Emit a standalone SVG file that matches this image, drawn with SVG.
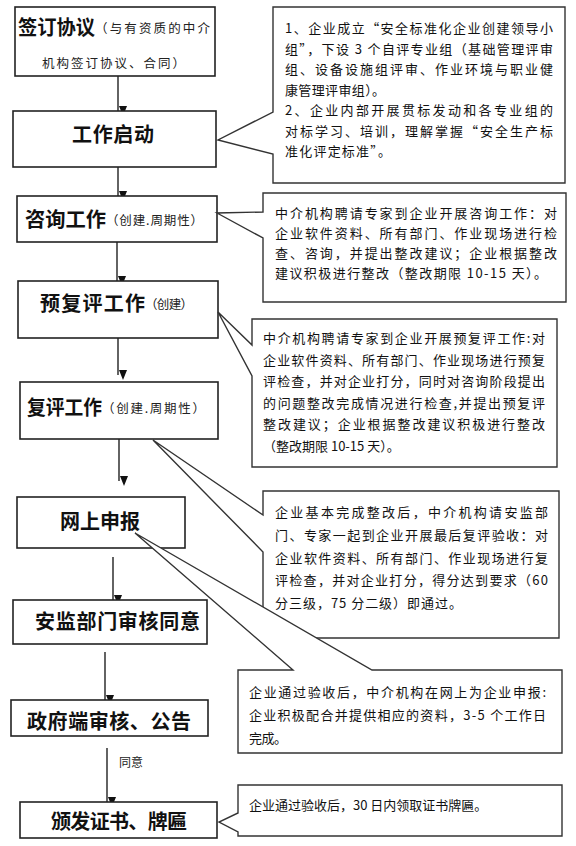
<svg xmlns="http://www.w3.org/2000/svg" width="576" height="846" viewBox="0 0 576 846">
<style>
.box{fill:#fff;stroke:#222;stroke-width:1.6}
.call{fill:#fff;stroke:#333;stroke-width:1.4;stroke-linejoin:miter}
.t{font-family:"Noto Sans CJK SC","Noto Sans",sans-serif;font-weight:700;font-size:20px;fill:#111}
.s{font-family:"Noto Sans CJK SC","Noto Sans",sans-serif;font-size:12.5px;fill:#222}
.c{font-family:"Noto Sans CJK SC","Noto Sans",sans-serif;font-size:13px;fill:#111}
.ar{stroke:#222;stroke-width:1.4;fill:none;marker-end:url(#ah)}
</style>
<defs>
<marker id="ah" markerUnits="userSpaceOnUse" markerWidth="10" markerHeight="10" viewBox="0 0 10 10" refX="5" refY="10" orient="auto-start-reverse">
<path d="M1,0 L9,0 L5,10 Z" fill="#111" transform="rotate(-90 5 5) translate(0 0)"/>
</marker>
</defs>
<rect width="576" height="846" fill="#fff"/>

<g id="connectors">
<line class="ar" x1="118" y1="76" x2="118" y2="111"/>
<line class="ar" x1="118" y1="167" x2="118" y2="196"/>
<line class="ar" x1="117" y1="242" x2="117" y2="281"/>
<line class="ar" x1="118" y1="338" x2="118" y2="375"/>
<line class="ar" x1="119" y1="439" x2="119" y2="481"/>
<line class="ar" x1="113" y1="557" x2="113" y2="600"/>
<line class="ar" x1="105" y1="652" x2="105" y2="700"/>
<line class="ar" x1="107" y1="748" x2="107" y2="802"/>
<text class="s" x="119" y="767" style="font-size:12px">同意</text>
</g>

<g id="n1">
<rect class="box" x="15" y="7" width="200" height="69"/>
<text class="t" x="18" y="35" textLength="77" lengthAdjust="spacingAndGlyphs">签订协议</text>
<text class="s" x="95" y="33" textLength="115" lengthAdjust="spacing">（与有资质的中介</text>
<text class="s" x="42" y="68" textLength="143" lengthAdjust="spacing">机构签订协议、合同）</text>
</g>

<g id="n2">
<rect class="box" x="13" y="111" width="203" height="56"/>
<text class="t" x="72" y="142" textLength="82" lengthAdjust="spacing">工作启动</text>
</g>

<g id="n3">
<rect class="box" x="17" y="196" width="200" height="46"/>
<text class="t" x="25" y="227" textLength="81" lengthAdjust="spacingAndGlyphs">咨询工作</text>
<text class="s" x="106" y="225" textLength="97" lengthAdjust="spacing">（创建.周期性）</text>
</g>

<g id="n4">
<rect class="box" x="18" y="281" width="200" height="57"/>
<text class="t" x="40" y="311" textLength="105" lengthAdjust="spacing">预复评工作</text>
<text class="s" x="145" y="309" textLength="48" lengthAdjust="spacing">（创建）</text>
</g>

<g id="n5">
<rect class="box" x="20" y="382" width="198" height="57"/>
<text class="t" x="27" y="415" textLength="75" lengthAdjust="spacingAndGlyphs">复评工作</text>
<text class="s" x="102" y="413" textLength="103" lengthAdjust="spacing">（创建.周期性）</text>
</g>

<g id="n6">
<rect class="box" x="17" y="497" width="168" height="51"/>
<text class="t" x="60" y="529" textLength="80" lengthAdjust="spacingAndGlyphs">网上申报</text>
</g>

<g id="n7">
<rect class="box" x="13" y="600" width="194" height="44"/>
<text class="t" x="35" y="629" textLength="165" lengthAdjust="spacing">安监部门审核同意</text>
</g>

<g id="n8">
<rect class="box" x="11" y="700" width="197" height="36"/>
<text class="t" x="27" y="729" textLength="164" lengthAdjust="spacing">政府端审核、公告</text>
</g>

<g id="n9">
<rect class="box" x="20" y="802" width="197" height="36"/>
<text class="t" x="51" y="829" textLength="136" lengthAdjust="spacing">颁发证书、牌匾</text>
</g>

<g id="c1">
<path class="call" d="M273,7 H565 V183 H273 V154 L218,140 L273,112 Z"/>
<text class="c" x="285" y="33" textLength="268" lengthAdjust="spacing">1、企业成立“安全标准化企业创建领导小</text>
<text class="c" x="285" y="53.5" textLength="268" lengthAdjust="spacing">组”，下设 3 个自评专业组（基础管理评审</text>
<text class="c" x="285" y="74" textLength="268" lengthAdjust="spacing">组、设备设施组评审、作业环境与职业健</text>
<text class="c" x="285" y="94.5" textLength="100" lengthAdjust="spacing">康管理评审组）。</text>
<text class="c" x="285" y="115" textLength="268" lengthAdjust="spacing">2、企业内部开展贯标发动和各专业组的</text>
<text class="c" x="285" y="135.5" textLength="268" lengthAdjust="spacing">对标学习、培训，理解掌握“安全生产标</text>
<text class="c" x="285" y="156" textLength="106" lengthAdjust="spacing">准化评定标准”。</text>
</g>

<g id="c2">
<path class="call" d="M263,193 H566 V302 H263 V238 L217,213 L263,212 Z"/>
<text class="c" x="275" y="218" textLength="282" lengthAdjust="spacing">中介机构聘请专家到企业开展咨询工作：对</text>
<text class="c" x="275" y="238" textLength="282" lengthAdjust="spacing">企业软件资料、所有部门、作业现场进行检</text>
<text class="c" x="275" y="258" textLength="282" lengthAdjust="spacing">查、咨询，并提出整改建议；企业根据整改</text>
<text class="c" x="275" y="278" textLength="272" lengthAdjust="spacing">建议积极进行整改（整改期限 10-15 天）。</text>
</g>

<g id="c3">
<path class="call" d="M252,319 H557 V467 H252 V376 L218,312 L252,345 Z"/>
<text class="c" x="263" y="343" textLength="282" lengthAdjust="spacing">中介机构聘请专家到企业开展预复评工作:对</text>
<text class="c" x="263" y="364.5" textLength="282" lengthAdjust="spacing">企业软件资料、所有部门、作业现场进行预复</text>
<text class="c" x="263" y="386" textLength="282" lengthAdjust="spacing">评检查，并对企业打分，同时对咨询阶段提出</text>
<text class="c" x="263" y="407.5" textLength="282" lengthAdjust="spacing">的问题整改完成情况进行检查,并提出预复评</text>
<text class="c" x="263" y="429" textLength="282" lengthAdjust="spacing">整改建议；企业根据整改建议积极进行整改</text>
<text class="c" x="263" y="450.5">（整改期限 10-15 天）。</text>
</g>

<g id="c4">
<path class="call" d="M263,491 H559 V638 H263 V552 L153,440 L263,515 Z"/>
<text class="c" x="275" y="516.5" textLength="273" lengthAdjust="spacing">企业基本完成整改后，中介机构请安监部</text>
<text class="c" x="275" y="539.5" textLength="273" lengthAdjust="spacing">门、专家一起到企业开展最后复评验收：对</text>
<text class="c" x="275" y="562.5" textLength="273" lengthAdjust="spacing">企业软件资料、所有部门、作业现场进行复</text>
<text class="c" x="275" y="585" textLength="273" lengthAdjust="spacing">评检查，并对企业打分，得分达到要求（60</text>
<text class="c" x="275" y="607.5" textLength="187" lengthAdjust="spacing">分三级，75 分二级）即通过。</text>
</g>

<g id="c5">
<path class="call" d="M238,670 H293 L135,533 L372,670 H562 V753 H238 Z"/>
<text class="c" x="249" y="696.5" textLength="297" lengthAdjust="spacing">企业通过验收后，中介机构在网上为企业申报:</text>
<text class="c" x="249" y="719.5" textLength="297" lengthAdjust="spacing">企业积极配合并提供相应的资料，3-5 个工作日</text>
<text class="c" x="249" y="742.5" textLength="38" lengthAdjust="spacing">完成。</text>
</g>

<g id="c6">
<path class="call" d="M238,785 H562 V836 H238 V832 L219,822 L238,813 Z"/>
<text class="c" x="249" y="809.5">企业通过验收后，30 日内领取证书牌匾。</text>
</g>
</svg>
